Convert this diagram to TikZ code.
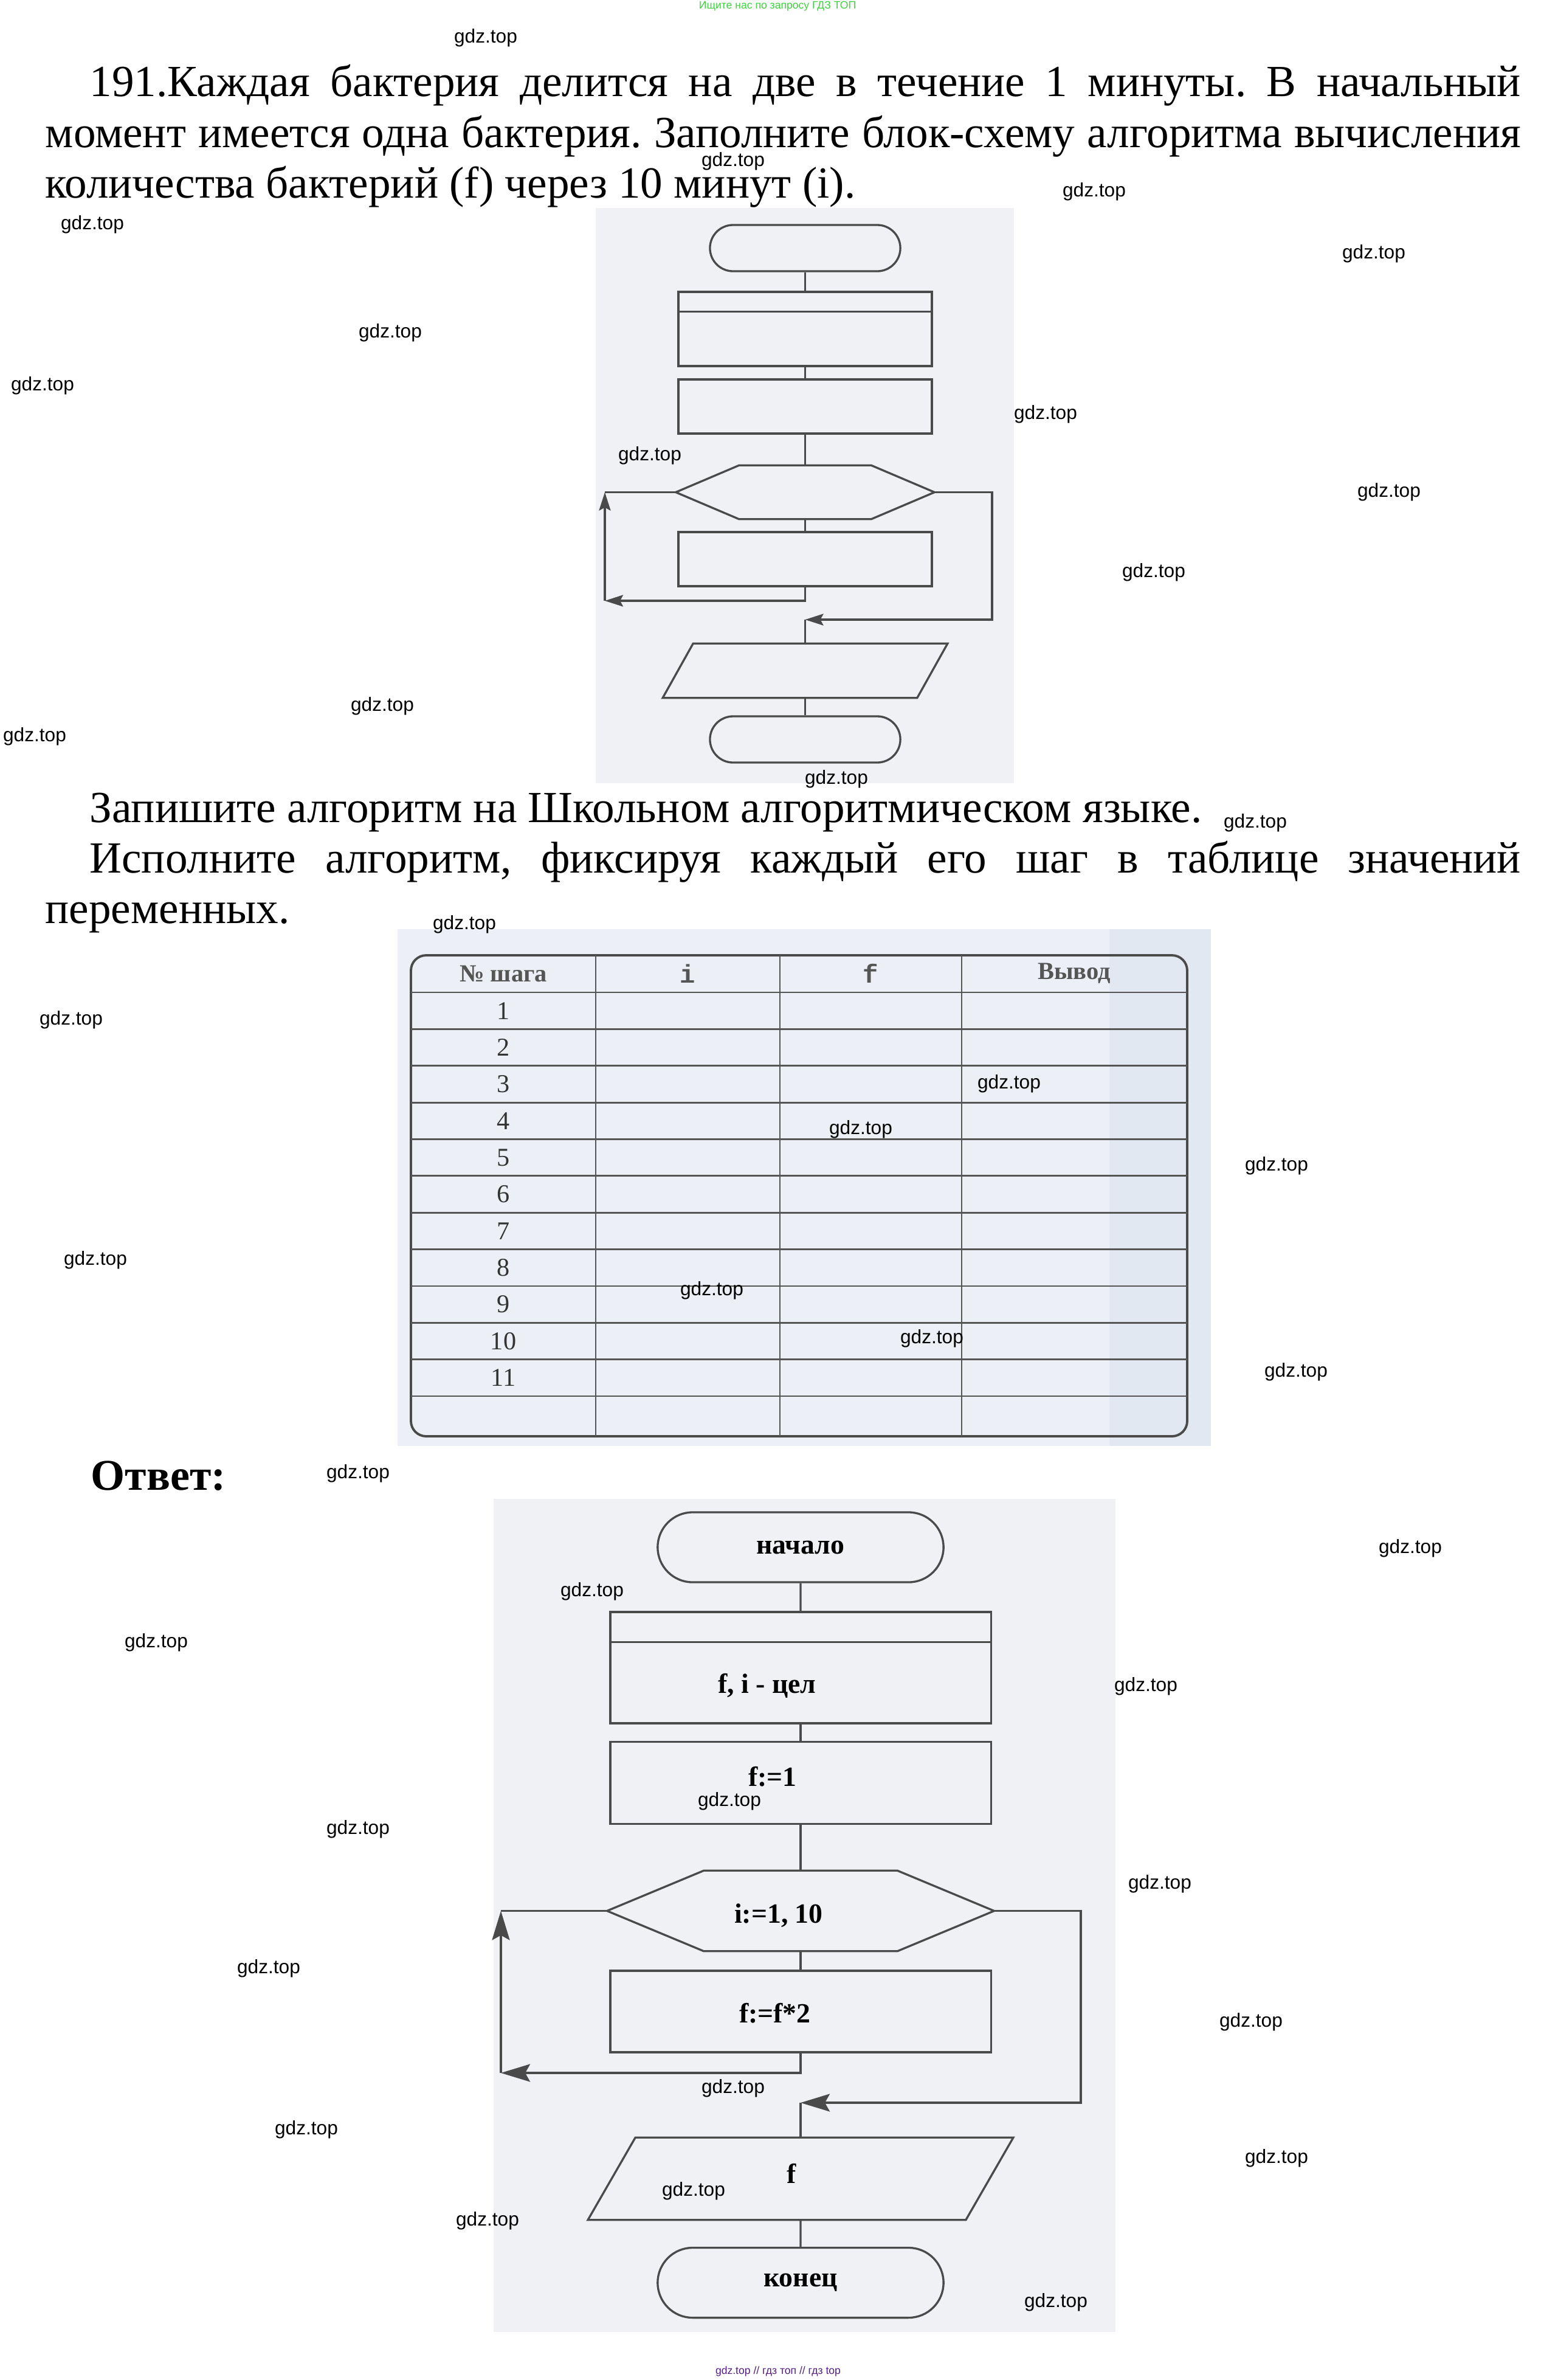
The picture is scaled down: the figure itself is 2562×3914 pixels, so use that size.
\documentclass[tikz,border=0pt]{standalone}
\usepackage{fontspec}
\setmainfont{Liberation Serif}
\setmonofont{Liberation Mono}
\newfontfamily\wmfont{Liberation Sans}
\usetikzlibrary{shapes.misc,arrows.meta}
\definecolor{ink}{HTML}{4A4A4A}
\definecolor{gridc}{HTML}{555555}
\definecolor{scan}{HTML}{F0F1F4}
\definecolor{scanb}{HTML}{ECEFF5}
\definecolor{scanc}{HTML}{E2E8F1}
\definecolor{topgreen}{HTML}{3FD23F}
\definecolor{botviolet}{HTML}{52207E}
\frenchspacing
\newcommand\bodyfont{\fontsize{20.8pt}{23.7pt}\selectfont}
\newcommand\chartfont{\bfseries\fontsize{13pt}{15pt}\selectfont}
\tikzset{
  txt/.style   ={inner sep=0pt, anchor=base west, font=\bodyfont},
  wm/.style    ={inner sep=0pt, font=\wmfont\fontsize{9pt}{10pt}\selectfont},
  line/.style  ={draw=ink, line width=0.95pt},
  flow/.style  ={line, -{Stealth[length=4.8mm, width=2.9mm, inset=0.8mm]}},
  flowsm/.style={line, -{Stealth[length=3mm, width=1.9mm, inset=0.5mm]}},
  term/.style  ={rounded rectangle, line, minimum width=4.7cm,
                 minimum height=1.15cm, inner sep=0pt, font=\chartfont},
  termsm/.style={term, minimum width=3.13cm, minimum height=0.76cm},
  box/.style   ={rectangle, line, minimum width=6.26cm, inner sep=0pt},
  boxsm/.style ={box, minimum width=4.17cm},
  % hexagon and parallelogram: frame only, outline drawn from anchors
  frame/.style ={rectangle, inner sep=0pt, font=\chartfont},
  lbl/.style   ={inner sep=0pt, font=\chartfont},
  grid/.style  ={draw=gridc, line width=0.8pt},
  head/.style  ={inner sep=0pt, text=gridc, font=\bfseries\fontsize{11.5pt}{13pt}\selectfont},
  num/.style   ={inner sep=0pt, text=black!80, font=\fontsize{12pt}{14pt}\selectfont},
}

\begin{document}
\begin{tikzpicture}[x=0.01cm, y=-0.01cm]
  \fill[white] (0,0) rectangle (2562,3914);
  \useasboundingbox (0,0) rectangle (2562,3914);

  % scanned areas
  \fill[scan]  (980,342)   rectangle (1668,1288);
  \fill[scanb] (654,1528)  rectangle (1992,2378);
  \fill[scanc] (1825,1528) rectangle (1992,2378);
  \fill[scan]  (812,2465)  rectangle (1835,3835);

  % task text
  \node[txt] (l1) at (147,158)  {\makebox[23.53cm][s]{191.Каждая бактерия делится на две в течение 1 минуты. В начальный}};
  \node[txt] (l2) at (74,242)   {\makebox[24.26cm][s]{момент имеется одна бактерия. Заполните блок-схему алгоритма вычисления}};
  \node[txt] (l3) at (74,325)   {количества бактерий (f) через 10 минут (i).};
  \node[txt] (l4) at (147,1352) {Запишите алгоритм на Школьном алгоритмическом языке.};
  \node[txt] (l5) at (147,1435) {\makebox[23.53cm][s]{Исполните алгоритм, фиксируя каждый его шаг в таблице значений}};
  \node[txt] (l6) at (74,1518)  {переменных.};
  \node[txt, font=\bfseries\fontsize{20.5pt}{24pt}\selectfont] (ans) at (149,2450) {Ответ:};

  % empty flowchart
  \node[termsm] (S1) at (1324.5,408) {};
  \node[boxsm, minimum height=1.22cm] (D1) at (1324.5,541) {};
  \draw[line] ([yshift=-3.4mm]D1.north west) -- ([yshift=-3.4mm]D1.north east);
  \node[boxsm, minimum height=0.89cm] (A1) at (1324.5,668.5) {};
  \node[frame, minimum width=4.24cm, minimum height=0.87cm] (H1) at (1324.5,809.5) {};
  \draw[line] (H1.west) -- ([xshift=10.4mm]H1.north west) -- ([xshift=-10.4mm]H1.north east)
    -- (H1.east) -- ([xshift=-10.4mm]H1.south east) -- ([xshift=10.4mm]H1.south west) -- cycle;
  \node[boxsm, minimum height=0.89cm] (B1) at (1324.5,919.5) {};
  \node[frame, minimum width=4.67cm, minimum height=0.88cm] (P1) at (1324.5,1103) {};
  \draw[line] ([xshift=5mm]P1.north west) -- (P1.north east) -- ([xshift=-5mm]P1.south east)
    -- (P1.south west) -- cycle;
  \node[termsm] (E1) at (1324.5,1216) {};
  \coordinate (bl1) at (995,988);
  \coordinate (tl1) at (995,809.5);
  \coordinate (br1) at (1632,1019);
  \coordinate (j1)  at (1324.5,1019);
  \draw[line] (S1) -- (D1);  \draw[line] (D1) -- (A1);
  \draw[line] (A1) -- (H1);  \draw[line] (H1) -- (B1);
  \draw[flowsm] (B1.south) |- (bl1);
  \draw[flowsm] (bl1) -- (tl1);
  \draw[line] (tl1) -- (H1.west);
  \draw[flowsm] (H1.east) -| (br1) -- (j1);
  \draw[line] (j1) -- (P1);  \draw[line] (P1) -- (E1);

  % table
  \draw[line, line width=1.1pt, rounded corners=2.5mm] (676,1571) rectangle (1953,2362);
  \foreach \x in {980,1283,1582}
    \draw[grid] (\x,1571) -- (\x,2362);
  \foreach \k in {0,...,11}
    \draw[grid] (676,{1632+60.36*\k}) -- (1953,{1632+60.36*\k});
  \node[head] (hStep) at (828,1601)  {№ шага};
  \node[head, font=\ttfamily\bfseries\fontsize{12pt}{13pt}\selectfont] (hI) at (1131,1601) {i};
  \node[head, font=\ttfamily\bfseries\fontsize{12pt}{13pt}\selectfont] (hF) at (1432,1601) {f};
  \node[head] (hOut)  at (1767,1601) {Вывод};
  \foreach \k in {1,...,11}
    \node[num] (n\k) at (828,{1632+60.36*(\k-0.5)}) {\k};

  % answer flowchart
  \node[term] (S2) at (1317,2544.5) {начало};
  \node[box, minimum height=1.83cm,
        label={[lbl, xshift=-5.5mm, yshift=-3mm]center:{f, i - цел}}] (D2) at (1317,2742.5) {};
  \draw[line] ([yshift=-5.1mm]D2.north west) -- ([yshift=-5.1mm]D2.north east);
  \node[box, minimum height=1.35cm,
        label={[lbl, xshift=-4.6mm, yshift=1mm]center:{f:=1}}] (A2) at (1317,2932) {};
  \node[frame, minimum width=6.35cm, minimum height=1.31cm,
        label={[lbl, xshift=-3.6mm, yshift=-0.8mm]center:{i:=1, 10}}] (H2) at (1317,3142.5) {};
  \draw[line] (H2.west) -- ([xshift=15.9mm]H2.north west) -- ([xshift=-15.9mm]H2.north east)
    -- (H2.east) -- ([xshift=-15.9mm]H2.south east) -- ([xshift=15.9mm]H2.south west) -- cycle;
  \node[box, minimum height=1.34cm,
        label={[lbl, xshift=-4.2mm, yshift=-0.3mm]center:{f:=f*2}}] (B2) at (1317,3308) {};
  \node[frame, minimum width=6.98cm, minimum height=1.34cm,
        label={[lbl, xshift=-1.5mm, yshift=0.9mm]center:f}] (P2) at (1317,3583) {};
  \draw[line] ([xshift=7.8mm]P2.north west) -- (P2.north east) -- ([xshift=-7.8mm]P2.south east)
    -- (P2.south west) -- cycle;
  \node[term] (E2) at (1317,3754) {конец};
  \coordinate (bl2) at (824,3409);
  \coordinate (tl2) at (824,3142.5);
  \coordinate (br2) at (1778,3458);
  \coordinate (j2)  at (1317,3458);
  \draw[line] (S2) -- (D2);  \draw[line] (D2) -- (A2);
  \draw[line] (A2) -- (H2);  \draw[line] (H2) -- (B2);
  \draw[flow] (B2.south) |- (bl2);
  \draw[flow] (bl2) -- (tl2);
  \draw[line] (tl2) -- (H2.west);
  \draw[flow] (H2.east) -| (br2) -- (j2);
  \draw[line] (j2) -- (P2);  \draw[line] (P2) -- (E2);

  % site marks
  \node[inner sep=0pt, text=topgreen, font=\wmfont\fontsize{5pt}{6pt}\selectfont] (top) at (1279,10)
    {Ищите нас по запросу ГДЗ ТОП};
  \node[inner sep=0pt, text=botviolet, font=\wmfont\fontsize{5pt}{6pt}\selectfont] (bot) at (1280,3900)
    {gdz.top // гдз топ // гдз top};
  \foreach \wx/\wy [count=\k] in {799/62, 1206/265, 1800/315, 152/369, 2260/417, 642/547,
      70/634, 1720/681, 1069/749, 2285/809, 1898/941, 629/1161, 57/1211, 1376/1281,
      2065/1353, 764/1520, 117/1677, 1660/1782, 1416/1857, 2100/1917, 157/2072,
      1171/2122, 1533/2201, 2132/2256, 589/2423, 2320/2546, 974/2617, 257/2701,
      1885/2773, 1200/2962, 589/3008, 1908/3098, 442/3237, 2058/3325, 1206/3434,
      504/3502, 2100/3549, 1141/3603, 802/3652, 1737/3786}
    \node[wm] (wm\k) at (\wx,\wy) {gdz.top};
\end{tikzpicture}
\end{document}
